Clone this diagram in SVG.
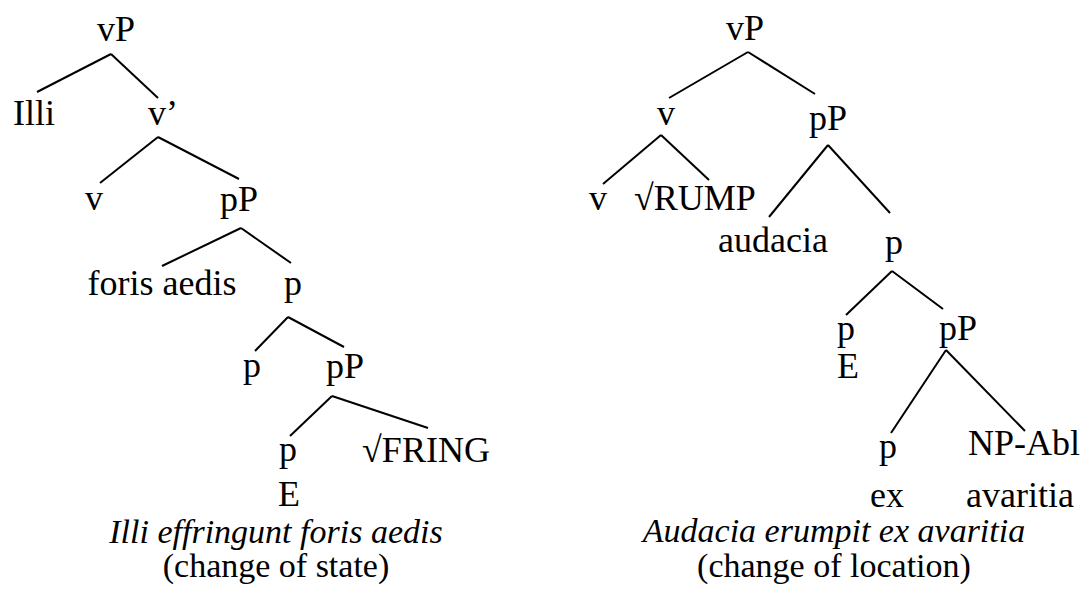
<svg xmlns="http://www.w3.org/2000/svg" width="1083" height="590" viewBox="0 0 1083 590">
  <style>
    .lbl { font-family: "Liberation Serif", "Times New Roman", serif; font-size: 36px; fill: #000; text-anchor: middle; }
    .cap { font-family: "Liberation Serif", "Times New Roman", serif; font-size: 34px; fill: #000; text-anchor: middle; }
    .it { font-style: italic; }
    .edge { stroke: #000; stroke-width: 2; fill: none; stroke-linecap: butt; }
  </style>
  <rect width="1083" height="590" fill="#fff"/>

  <!-- Tree 1: change of state -->
  <g id="connectors-state" class="edge">
    <line x1="111" y1="54" x2="37" y2="92"/>
    <line x1="111" y1="54" x2="158" y2="98"/>
    <line x1="158" y1="137" x2="100" y2="183"/>
    <line x1="158" y1="137" x2="239" y2="179"/>
    <line x1="241" y1="228" x2="162" y2="266"/>
    <line x1="241" y1="228" x2="291" y2="263"/>
    <line x1="288" y1="317" x2="255" y2="351"/>
    <line x1="288" y1="317" x2="344" y2="347"/>
    <line x1="332" y1="396" x2="290" y2="436"/>
    <line x1="332" y1="396" x2="428" y2="428"/>
  </g>
  <g id="s-vP"><text class="lbl" x="116" y="41">vP</text></g>
  <g id="s-Illi"><text class="lbl" x="34" y="125">Illi</text></g>
  <g id="s-vbar"><text class="lbl" x="163" y="125">v’</text></g>
  <g id="s-v"><text class="lbl" x="94" y="210">v</text></g>
  <g id="s-pP1"><text class="lbl" x="239" y="211">pP</text></g>
  <g id="s-foris"><text class="lbl" x="162" y="295">foris aedis</text></g>
  <g id="s-pbar"><text class="lbl" x="293" y="295">p</text></g>
  <g id="s-p1"><text class="lbl" x="252" y="377">p</text></g>
  <g id="s-pP2"><text class="lbl" x="345" y="378">pP</text></g>
  <g id="s-p2"><text class="lbl" x="288" y="461">p</text><text class="lbl" x="289" y="506">E</text></g>
  <g id="s-root"><text class="lbl" x="426" y="462">√FRING</text></g>
  <g id="s-caption">
    <text class="cap it" x="276" y="543">Illi effringunt foris aedis</text>
    <text class="cap" x="276" y="577">(change of state)</text>
  </g>

  <!-- Tree 2: change of location -->
  <g id="connectors-location" class="edge">
    <line x1="748" y1="52" x2="669" y2="98"/>
    <line x1="748" y1="52" x2="815" y2="94"/>
    <line x1="661" y1="135" x2="603" y2="184"/>
    <line x1="661" y1="135" x2="709" y2="180"/>
    <line x1="828" y1="145" x2="769" y2="217"/>
    <line x1="828" y1="145" x2="890" y2="213"/>
    <line x1="892" y1="271" x2="846" y2="315"/>
    <line x1="892" y1="271" x2="943" y2="309"/>
    <line x1="946" y1="350" x2="891" y2="433"/>
    <line x1="946" y1="350" x2="1025" y2="431"/>
  </g>
  <g id="l-vP"><text class="lbl" x="745" y="40">vP</text></g>
  <g id="l-v"><text class="lbl" x="666" y="125">v</text></g>
  <g id="l-pP1"><text class="lbl" x="828" y="130">pP</text></g>
  <g id="l-v2"><text class="lbl" x="598" y="210">v</text></g>
  <g id="l-root"><text class="lbl" x="695" y="210">√RUMP</text></g>
  <g id="l-audacia"><text class="lbl" x="773" y="252">audacia</text></g>
  <g id="l-pbar"><text class="lbl" x="894" y="254">p</text></g>
  <g id="l-p1"><text class="lbl" x="846" y="340">p</text><text class="lbl" x="848" y="378">E</text></g>
  <g id="l-pP2"><text class="lbl" x="958" y="340">pP</text></g>
  <g id="l-p2"><text class="lbl" x="888" y="458">p</text><text class="lbl" x="887" y="507">ex</text></g>
  <g id="l-np"><text class="lbl" x="1024" y="455">NP-Abl</text><text class="lbl" x="1020" y="507">avaritia</text></g>
  <g id="l-caption">
    <text class="cap it" x="834" y="542">Audacia erumpit ex avaritia</text>
    <text class="cap" x="834" y="577">(change of location)</text>
  </g>
</svg>
